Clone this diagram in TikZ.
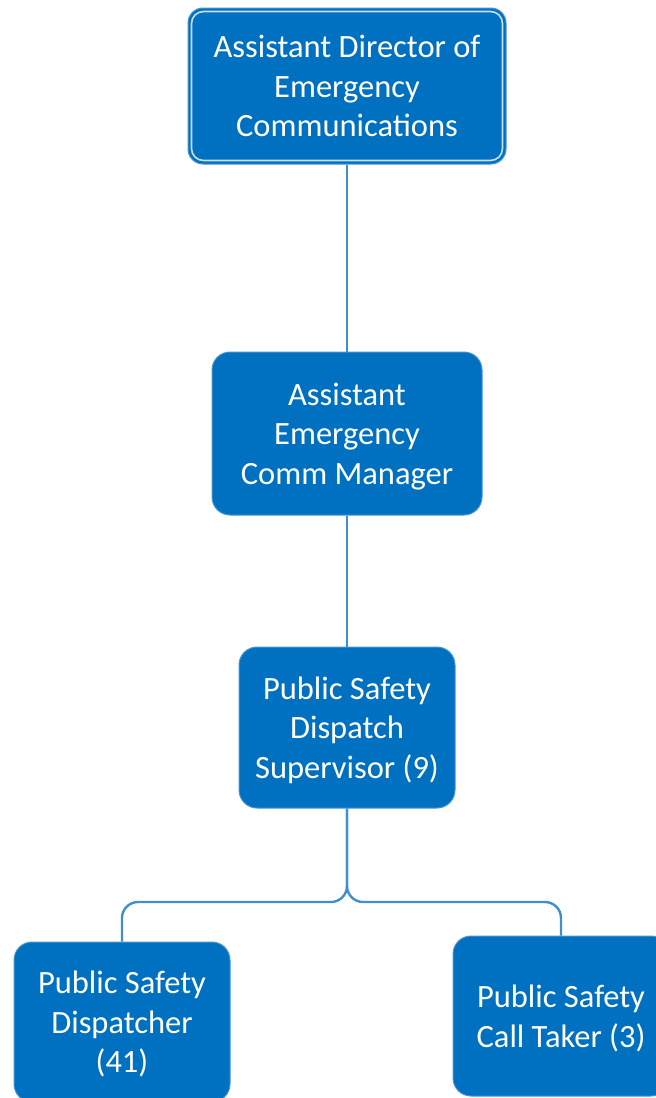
\documentclass[tikz,border=0pt]{standalone}
\usepackage{fontspec}
\setmainfont{Carlito}
\usepackage{tikz}
\usetikzlibrary{arrows}
\definecolor{boxblue}{HTML}{0070C0}
\definecolor{edgeblue}{HTML}{4A95D2}
\definecolor{lineblue}{HTML}{3F8FCE}
\definecolor{ringblue}{HTML}{C9DFF2}
\tikzset{
  rolebox/.style={draw=edgeblue,fill=boxblue,line width=1pt,rounded corners=18pt,
    text=white,align=center,font=\fontsize{32.5}{39.5}\selectfont,inner sep=0pt,text depth=0pt},
  conn/.style={draw=lineblue,line width=2.4pt,rounded corners=16pt}
}

\begin{document}
\begin{tikzpicture}[x=1pt,y=-1pt]
\useasboundingbox (0,0) rectangle (656,1098);
\draw[] (347,86) node[rolebox,rounded corners=15pt,minimum width=318pt,minimum height=156pt] (director) {Assistant Director of\\Emergency\\Communications};
\draw[ringblue,line width=1.6pt,rounded corners=12pt] ([shift={(4pt,4pt)}]director.south west) rectangle ([shift={(-4pt,-4pt)}]director.north east);
\draw[] (347,433.5) node[rolebox,minimum width=270pt,minimum height=163pt] (manager) {Assistant\\Emergency\\Comm Manager};
\draw[] (347,727.5) node[rolebox,minimum width=216pt,minimum height=161pt] (supervisor) {Public Safety\\Dispatch\\Supervisor (9)};
\draw[] (122,1022) node[rolebox,minimum width=216pt,minimum height=160pt] (dispatcher) {Public Safety\\Dispatcher\\(41)};
\draw[] (561,1016) node[rolebox,minimum width=216pt,minimum height=160pt] (calltaker) {Public Safety\\Call Taker (3)};
\coordinate (fork) at (347,902);
\draw[conn] (director) -- (manager);
\draw[conn] (manager) -- (supervisor);
\draw[conn] (supervisor.south) -- (fork) -| (dispatcher.north);
\draw[conn] (supervisor.south) -- (fork) -| (calltaker.north);
\end{tikzpicture}
\end{document}
